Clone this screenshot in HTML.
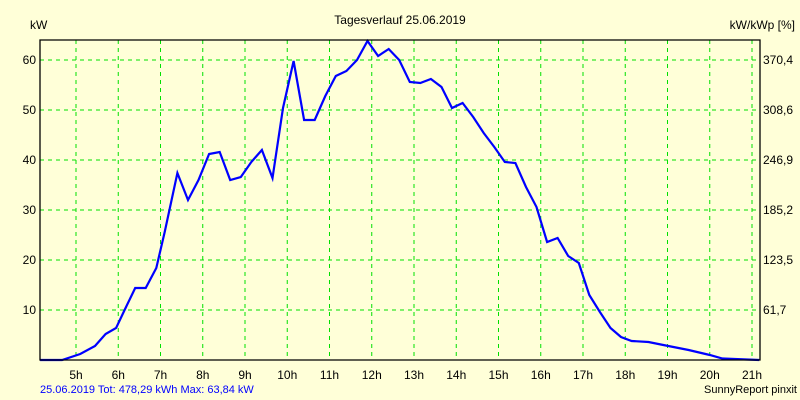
<!DOCTYPE html>
<html><head><meta charset="utf-8"><style>
body{margin:0;background:#ffffd8;}
svg{display:block;font-family:"Liberation Sans",sans-serif;}
</style></head><body>
<svg id="c" width="800" height="400" viewBox="0 0 800 400">
<rect x="0" y="0" width="800" height="400" fill="#ffffd8"/>
<text x="400" y="24" font-size="12" text-anchor="middle">Tagesverlauf 25.06.2019</text>
<text x="30" y="29" font-size="12">kW</text>
<text x="795" y="29" font-size="12" text-anchor="end">kW/kWp [%]</text>
<g id="grid"></g>
<g id="ticks"></g>
<path id="line" fill="none" stroke="#0000ff" stroke-width="2.2"/>
<path d="M40,40 H760 V360 H40 Z" fill="none" stroke="#000" stroke-width="1.3"/>
<text x="40" y="393" font-size="11" fill="#0000ff">25.06.2019 Tot: 478,29 kWh Max: 63,84 kW</text>
<text x="797" y="393" font-size="11" text-anchor="end">SunnyReport pinxit</text>
</svg>
<script>
const times=[4.15,4.67,5.1,5.45,5.7,5.95,6.15,6.4,6.65,6.9,7.1,7.4,7.65,7.9,8.15,8.4,8.65,8.9,9.15,9.4,9.65,9.9,10.15,10.4,10.65,10.9,11.15,11.4,11.65,11.9,12.15,12.4,12.65,12.9,13.15,13.4,13.65,13.9,14.15,14.4,14.65,14.9,15.15,15.4,15.65,15.9,16.15,16.4,16.65,16.9,17.15,17.4,17.65,17.9,18.15,18.55,18.9,19.5,20,20.3,21.17];
const values=[0,0,1.2,2.8,5.2,6.4,10,14.4,14.4,18.4,25.6,37.4,32,36,41.2,41.6,36,36.6,39.6,42,36.4,50.4,59.8,48,48,52.8,56.8,57.8,60,63.8,60.8,62.2,60,55.6,55.4,56.2,54.6,50.4,51.4,48.6,45.4,42.6,39.6,39.4,34.6,30.6,23.6,24.4,20.8,19.4,13,9.6,6.4,4.6,3.8,3.6,3,2,1,0.3,0];
const hourTicks=[5,6,7,8,9,10,11,12,13,14,15,16,17,18,19,20,21];
const yTicks=[10,20,30,40,50,60];
const y2Labels=["61,7","123,5","185,2","246,9","308,6","370,4"];
const X=t=>76+(t-5)*42.25;
const Y=v=>360-v*5;
const NS="http://www.w3.org/2000/svg";
const grid=document.getElementById('grid'),ticks=document.getElementById('ticks');
function mk(tag,attrs,parent){const e=document.createElementNS(NS,tag);for(const k in attrs)e.setAttribute(k,attrs[k]);parent.appendChild(e);return e;}
hourTicks.forEach(h=>{
 const l=mk('line',{x1:X(h),x2:X(h),y1:40,y2:360,stroke:'#00e000','stroke-dasharray':'4,4'},grid);
 
 
 const t=mk('text',{x:X(h),y:379,'font-size':12,'text-anchor':'middle'},ticks);t.textContent=h+'h';
 
 
});
yTicks.forEach((v,i)=>{
 const l=mk('line',{x1:40,x2:760,y1:Y(v),y2:Y(v),stroke:'#00e000','stroke-dasharray':'4,4'},grid);
 
 
 const t=mk('text',{x:36,y:Y(v)+4,'font-size':12,'text-anchor':'end'},ticks);t.textContent=v;
 
 
 const t2=mk('text',{x:763,y:Y(v)+4,'font-size':12},ticks);t2.textContent=y2Labels[i];
 
 
});
document.getElementById('line').setAttribute('d',times.map((t,i)=>(i?'L':'M')+X(t).toFixed(1)+','+Y(values[i]).toFixed(1)).join(' '));
</script>
</body></html>
